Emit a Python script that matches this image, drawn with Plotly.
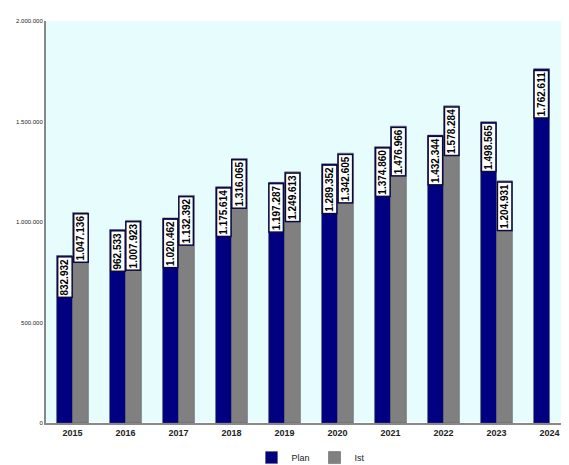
import plotly.graph_objs as go

years = ['2015', '2016', '2017', '2018', '2019', '2020', '2021', '2022', '2023', '2024']
plan = [832932, 962533, 1020462, 1175614, 1197287, 1289352, 1374860, 1432344, 1498565, 1762611]
ist = [1047136, 1007923, 1132392, 1316065, 1249613, 1342605, 1476966, 1578284, 1204931, None]
tick_vals = [0, 500000, 1000000, 1500000, 2000000]
tick_text = ['0', '500.000', '1.000.000', '1.500.000', '2.000.000']


def fmt(v):
    return '{:,}'.format(v).replace(',', '.')


fig = go.Figure()
fig.add_trace(go.Bar(x=years, y=plan, name='Plan', marker=dict(color='#000080', line=dict(color='#555', width=0.5))))
fig.add_trace(go.Bar(x=years, y=ist, name='Ist', marker=dict(color='#808080', line=dict(color='#555', width=0.5))))

# value boxes at the top of each bar (x given as category index)
for i in range(len(years)):
    for vals, shift in ((plan, -8), (ist, 8)):
        v = vals[i]
        if v is None:
            continue
        fig.add_annotation(x=i, y=v, xshift=shift, yanchor='top', yshift=-1,
                           text=fmt(v), textangle=-90, showarrow=False,
                           font=dict(family='Liberation Sans Narrow, Liberation Sans', size=10, color='black', weight='bold'),
                           bgcolor='white', bordercolor='#0a0a40', borderwidth=1.5, borderpad=1)

fig.update_layout(
    width=569, height=465,
    margin=dict(l=38, r=1, t=13, b=36),
    barmode='group', bargap=0.4, bargroupgap=0,
    plot_bgcolor='#e6fcfd', paper_bgcolor='white',
    font=dict(family='Liberation Sans', size=9, color='#222'),
    legend=dict(orientation='h', x=0.5, xanchor='center', y=-0.05, yanchor='top',
                font=dict(size=9), itemwidth=30),
    xaxis=dict(type='category', range=[-0.5, 9.5], showline=True, linecolor='#888', linewidth=2,
               tickfont=dict(size=9, weight='bold')),
    yaxis=dict(range=[0, 2000000], tickvals=tick_vals, ticktext=tick_text, showgrid=False,
               showline=True, linecolor='#888', linewidth=2, tickfont=dict(size=6)),
)

fig.write_html("out.html")
